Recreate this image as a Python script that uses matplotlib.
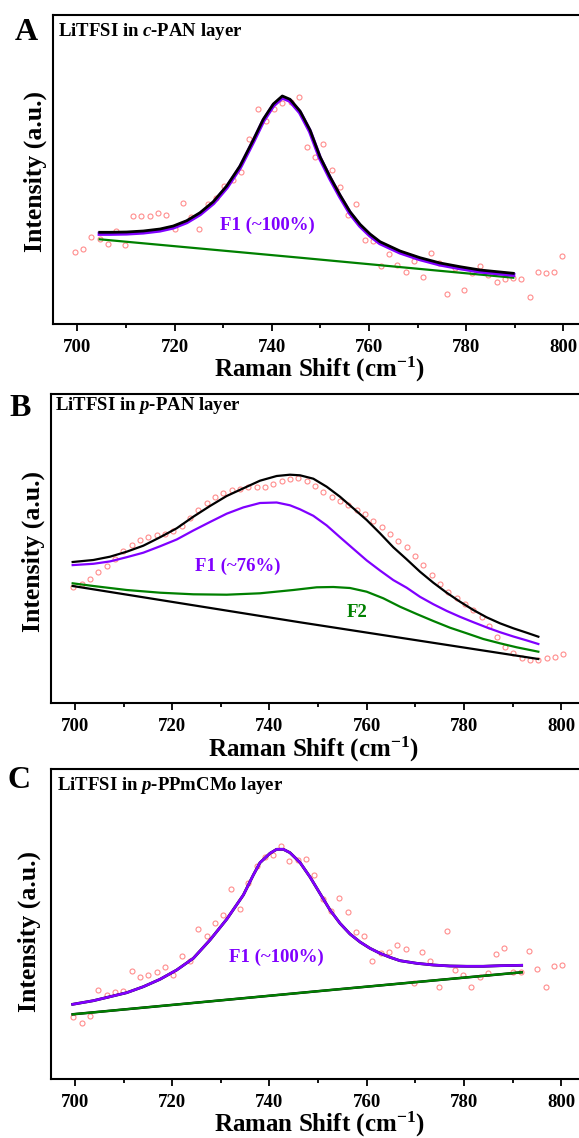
import matplotlib
matplotlib.use("Agg")
import matplotlib.pyplot as plt
from matplotlib.ticker import MultipleLocator

plt.rcParams['font.family'] = ['Liberation Serif', 'DejaVu Serif']
plt.rcParams['font.weight'] = 'bold'
plt.rcParams['mathtext.fontset'] = 'custom'
plt.rcParams['mathtext.rm'] = 'Liberation Serif:bold'
plt.rcParams['mathtext.bf'] = 'Liberation Serif:bold'
plt.rcParams['mathtext.it'] = 'Liberation Serif:italic:bold'

# ---------------- Panel A data ----------------
a_x = [699.47, 701.17, 702.88, 704.61, 706.32, 708.02, 709.75, 711.46, 713.17, 714.90,
       716.60, 718.31, 720.04, 721.75, 723.46, 725.10, 726.83, 728.54, 730.25, 731.97,
       733.68, 735.39, 737.12, 738.83, 740.53, 742.18, 743.91, 745.62, 747.22, 748.97,
       750.64, 752.39, 754.05, 755.72, 757.39, 759.14, 760.80, 762.55, 764.22, 765.88,
       767.55, 769.30, 771.05, 772.72, 774.38, 776.05, 777.80, 779.47, 781.21, 782.88,
       784.55, 786.30, 787.96, 789.63, 791.30, 793.05, 794.71, 796.46, 798.13, 799.79]
a_y = [72.0, 75.0, 87.0, 84.7, 79.7, 93.0, 78.7, 108.0, 108.0, 108.3,
       110.7, 109.0, 95.0, 121.0, 107.3, 95.0, 120.0, 125.7, 138.0, 144.0,
       151.7, 184.7, 214.7, 203.3, 215.3, 220.7, 222.0, 227.0, 176.7, 167.0,
       180.3, 153.7, 137.3, 108.7, 120.3, 84.3, 82.7, 58.3, 70.0, 59.0,
       52.3, 62.7, 47.3, 70.7, 60.7, 30.3, 56.3, 34.0, 50.7, 58.3,
       48.7, 41.7, 44.7, 46.3, 44.7, 26.7, 52.3, 50.7, 51.7, 68.0]
a_fit_x = [704.61, 706.73, 710.16, 713.58, 717.02, 719.75, 722.51, 725.25, 727.98, 730.74,
           733.48, 736.21, 738.27, 740.33, 742.18, 743.77, 745.82, 747.88, 749.94, 751.99,
           754.05, 756.11, 758.17, 760.23, 762.28, 766.40, 770.51, 774.63, 778.74, 782.86,
           786.98, 789.71]
a_total = [91.7, 91.7, 92.0, 93.0, 95.0, 98.0, 103.3, 111.3, 122.3, 138.0,
           158.0, 184.0, 204.7, 220.0, 228.0, 224.7, 213.0, 194.0, 167.3, 147.3,
           129.0, 112.3, 99.7, 90.0, 82.3, 73.0, 66.3, 61.0, 57.3, 54.0,
           52.0, 50.7]
a_f1 = [90.2, 90.2, 90.5, 91.5, 93.5, 96.5, 101.8, 109.8, 120.8, 136.5,
        156.5, 182.5, 203.2, 218.5, 226.5, 223.2, 211.5, 192.5, 165.8, 145.8,
        127.5, 110.8, 98.2, 88.5, 80.8, 71.5, 64.8, 59.5, 55.8, 52.5,
        50.5, 49.2]
a_base_x = [704.61, 745.82, 789.71]
a_base = [84.7, 66.3, 46.3]

# ---------------- Panel B data ----------------
b_x = [699.68, 701.39, 703.11, 704.82, 706.53, 708.25, 709.96, 711.67, 713.39, 715.10,
       716.81, 718.53, 720.24, 721.96, 723.67, 725.38, 727.10, 728.81, 730.52, 732.24,
       733.95, 735.66, 737.38, 739.09, 740.80, 742.52, 744.23, 745.94, 747.66, 749.37,
       751.08, 752.80, 754.51, 756.23, 757.94, 759.65, 761.37, 763.08, 764.79, 766.51,
       768.22, 769.93, 771.65, 773.36, 775.07, 776.79, 778.50, 780.21, 781.93, 783.64,
       785.15, 786.73, 788.44, 790.16, 791.87, 793.58, 795.30, 797.01, 798.73, 800.44]
b_y = [116.3, 119.0, 124.0, 130.7, 137.3, 144.0, 152.3, 158.0, 163.0, 166.0,
       167.7, 169.0, 172.0, 177.3, 184.7, 192.7, 200.0, 205.7, 209.7, 212.7,
       214.3, 215.7, 215.7, 216.3, 218.7, 221.7, 224.0, 224.7, 221.7, 217.3,
       210.7, 206.0, 201.7, 197.7, 193.3, 188.7, 182.0, 175.7, 169.0, 162.3,
       155.7, 147.3, 138.3, 128.3, 119.0, 111.3, 104.7, 99.0, 93.0, 86.3,
       77.0, 65.7, 55.7, 49.7, 44.7, 43.0, 43.0, 44.7, 46.3, 48.7]
b_fit_x = [699.54, 703.79, 707.22, 710.65, 714.07, 717.50, 720.93, 724.35, 727.78, 731.21,
           734.64, 738.06, 741.49, 744.23, 746.29, 749.03, 751.77, 754.51, 757.25, 760.00,
           762.74, 765.48, 768.22, 770.96, 773.70, 776.45, 779.19, 781.93, 784.67, 787.41,
           790.16, 792.90, 795.30]
b_total = [141.0, 143.0, 146.3, 151.3, 157.3, 165.7, 174.7, 186.3, 197.0, 207.0,
           214.7, 222.3, 227.0, 228.3, 227.7, 224.3, 216.3, 206.3, 194.7, 183.0,
           169.7, 155.7, 143.7, 131.3, 120.3, 110.3, 101.3, 93.0, 85.7, 79.7,
           74.7, 70.3, 66.3]
b_f1 = [137.9, 139.2, 141.6, 145.8, 150.3, 156.7, 163.5, 172.5, 181.0, 189.3,
        195.6, 200.0, 200.5, 197.7, 193.7, 187.2, 177.6, 165.8, 154.2, 142.6,
        132.5, 122.9, 115.3, 106.2, 98.8, 92.1, 86.2, 80.8, 75.6, 70.8,
        66.5, 62.6, 59.0]
b_f2_x = [699.54, 703.79, 710.65, 717.50, 724.35, 731.21, 738.06, 744.91, 749.72, 753.14,
          756.57, 760.00, 763.42, 766.85, 770.28, 773.70, 777.13, 780.56, 783.99, 787.41,
          790.84, 795.30]
b_f2 = [119.7, 117.0, 113.0, 110.3, 108.7, 108.3, 109.7, 113.0, 115.7, 116.0,
        115.0, 111.3, 104.7, 96.3, 89.0, 82.0, 75.3, 69.7, 64.0, 59.7,
        55.7, 51.3]
b_base_x = [699.54, 746.29, 795.30]
b_base = [117.0, 80.7, 44.0]

# ---------------- Panel C data ----------------
c_x = [699.68, 701.39, 703.11, 704.82, 706.53, 708.25, 709.96, 711.67, 713.39, 715.10,
       716.81, 718.53, 720.24, 721.96, 723.67, 725.38, 727.10, 728.81, 730.52, 732.17,
       733.95, 735.66, 737.38, 739.09, 740.80, 742.38, 744.09, 745.81, 747.52, 749.24,
       750.95, 752.66, 754.37, 756.09, 757.80, 759.52, 761.16, 762.88, 764.59, 766.30,
       768.02, 769.73, 771.38, 773.09, 774.80, 776.45, 778.16, 779.87, 781.52, 783.23,
       784.95, 786.66, 788.31, 790.02, 791.73, 793.45, 795.09, 796.80, 798.52, 800.23]
c_y = [62.0, 56.3, 63.3, 88.7, 84.0, 87.0, 87.7, 108.0, 101.7, 104.0,
       106.7, 112.3, 104.3, 122.7, 118.3, 150.0, 143.3, 156.3, 163.7, 190.0,
       169.7, 196.0, 213.0, 221.7, 224.0, 233.0, 218.0, 218.7, 219.7, 204.3,
       179.7, 167.7, 180.7, 166.7, 147.3, 143.0, 118.0, 125.7, 126.7, 134.0,
       130.0, 95.7, 126.7, 117.7, 92.3, 148.0, 109.0, 103.7, 92.3, 102.3,
       105.7, 124.7, 130.7, 107.0, 107.0, 127.7, 110.3, 92.3, 113.3, 114.3]
c_fit_x = [699.54, 703.79, 707.22, 710.65, 714.07, 717.50, 720.93, 724.35, 727.78, 731.21,
           734.64, 736.69, 738.06, 740.12, 741.49, 742.86, 744.23, 746.29, 748.35, 750.40,
           752.46, 754.51, 756.57, 758.63, 760.68, 762.74, 764.80, 766.85, 770.28, 773.70,
           777.13, 780.56, 783.99, 787.41, 791.87]
c_f1 = [74.7, 78.3, 82.3, 86.3, 92.3, 99.7, 109.0, 120.7, 139.0, 159.7,
        184.0, 204.0, 216.3, 225.7, 229.7, 229.7, 226.3, 216.5, 202.0, 185.5,
        169.0, 155.7, 145.0, 137.0, 130.7, 125.7, 121.7, 118.3, 115.7, 114.0,
        113.0, 112.7, 112.7, 113.3, 113.7]
c_total = list(c_f1)
c_base_x = [699.54, 750.40, 791.87]
c_base = [64.7, 88.0, 106.7]

titles = [r'LiTFSI in $\mathit{c}$-PAN layer',
          r'LiTFSI in $\mathit{p}$-PAN layer',
          r'LiTFSI in $\mathit{p}$-PPmCMo layer']
letters = ['A', 'B', 'C']
xlabel = r'Raman Shift (cm$^{\mathbf{-1}}$)'
ylabel = 'Intensity (a.u.)'

PURPLE = '#8000FF'
GREEN = '#008000'
PINK = '#FF8C8C'

W, H = 579, 1138
fig = plt.figure(figsize=(W / 100, H / 100), dpi=100)


def make_ax(left_px, top_px, bottom_px, x0_px, x1_px):
    # x0_px / x1_px: pixel positions of ticks 700 and 800
    ppu = (x1_px - x0_px) / 100.0
    xmin = 700 - (x0_px - left_px) / ppu
    xmax = 812
    width_px = (xmax - xmin) * ppu
    ax = fig.add_axes([left_px / W, 1 - bottom_px / H, width_px / W, (bottom_px - top_px) / H])
    ax.set_xlim(xmin, xmax)
    ax.set_ylim(0, bottom_px - top_px)
    ax.set_yticks([])
    ax.xaxis.set_minor_locator(MultipleLocator(10))
    ax.set_xticks([700, 720, 740, 760, 780, 800])
    ax.tick_params(axis='x', which='major', direction='out', length=5, width=1.3,
                   labelsize=13.5, pad=5.5)
    ax.tick_params(axis='x', which='minor', direction='out', length=3, width=1.3)
    for lab in ax.get_xticklabels():
        lab.set_fontweight('bold')
    for s in ax.spines.values():
        s.set_linewidth(1.5)
    return ax


def pts(ax, x, y):
    ax.plot(x, y, linestyle='none', marker='o', markersize=3.6, markerfacecolor='none',
            markeredgecolor=PINK, markeredgewidth=0.8, zorder=2)


# ---- Panel A ----
axA = make_ax(52.7, 15, 324, 77.3, 563.3)
pts(axA, a_x, a_y)
axA.plot(a_base_x, a_base, color=GREEN, lw=1.6, zorder=3)
axA.plot(a_fit_x, a_f1, color=PURPLE, lw=3.0, zorder=4)
axA.plot(a_fit_x, a_total, color='black', lw=2.0, zorder=5)
axA.text(739.1, 98.3, 'F1 (~100%)', color=PURPLE, fontsize=13.5, fontweight='bold',
         ha='center', va='center', zorder=6)

# ---- Panel B ----
axB = make_ax(50.5, 394, 703, 74.9, 561.2)
pts(axB, b_x, b_y)
axB.plot(b_base_x, b_base, color='black', lw=1.6, zorder=3)
axB.plot(b_f2_x, b_f2, color=GREEN, lw=1.6, zorder=3)
axB.plot(b_fit_x, b_f1, color=PURPLE, lw=1.6, zorder=4)
axB.plot(b_fit_x, b_total, color='black', lw=1.6, zorder=5)
axB.text(733.4, 137.0, 'F1 (~76%)', color=PURPLE, fontsize=13.5, fontweight='bold',
         ha='center', va='center', zorder=6)
axB.text(758.1, 90.3, 'F2', color=GREEN, fontsize=13.5, fontweight='bold',
         ha='center', va='center', zorder=6)

# ---- Panel C ----
axC = make_ax(50.5, 769, 1079, 74.9, 561.2)
pts(axC, c_x, c_y)
axC.plot(c_base_x, c_base, color='black', lw=1.8, zorder=3)
axC.plot(c_base_x, c_base, color=GREEN, lw=1.6, zorder=3)
axC.plot(c_fit_x, c_total, color='black', lw=2.0, zorder=4)
axC.plot(c_fit_x, c_f1, color=PURPLE, lw=1.9, zorder=5)
axC.text(741.5, 121.7, 'F1 (~100%)', color=PURPLE, fontsize=13.5, fontweight='bold',
         ha='center', va='center', zorder=6)

# ---- Figure texts ----
title_pos = [(58, 31), (55, 406), (57, 786)]
letter_pos = [(26, 32.5), (20, 408), (19, 781)]
xlab_pos = [(319, 369), (313, 749), (319, 1124)]
ylab_pos = [(35, 171.5), (33, 551.5), (29, 931.5)]

for i in range(3):
    tx, ty = title_pos[i]
    fig.text(tx / W, 1 - ty / H, titles[i], fontsize=13.5, fontweight='bold',
             ha='left', va='center')
    lx, ly = letter_pos[i]
    fig.text(lx / W, 1 - ly / H, letters[i], fontsize=23, fontweight='bold',
             ha='center', va='center')
    xx, xy = xlab_pos[i]
    fig.text(xx / W, 1 - xy / H, xlabel, fontsize=18, fontweight='bold',
             ha='center', va='center')
    yx, yy = ylab_pos[i]
    fig.text(yx / W, 1 - yy / H, ylabel, fontsize=18.5, fontweight='bold',
             ha='center', va='center', rotation=90)

fig.savefig('out.png', dpi=100)
